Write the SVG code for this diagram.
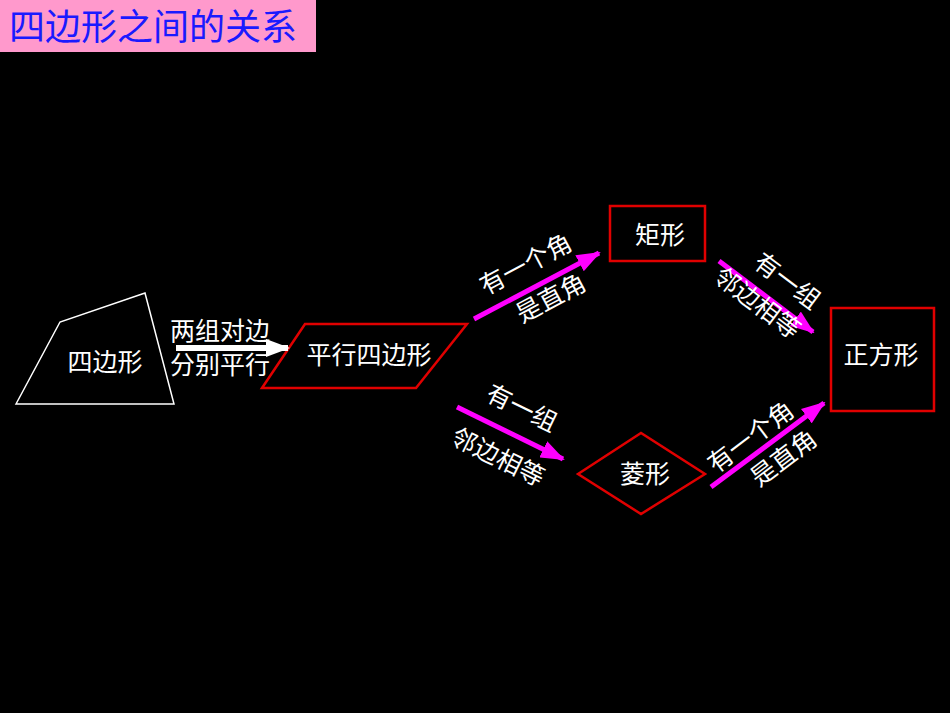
<svg xmlns="http://www.w3.org/2000/svg" width="950" height="713" viewBox="0 0 950 713">
<defs>
<style>
text{font-family:"Liberation Sans","Noto Sans CJK SC",sans-serif;fill:#fff;font-size:25px;text-anchor:middle}
.node{fill:none;stroke:#e00000;stroke-width:2.5}
.ma{stroke:#ff00ff;stroke-width:5;fill:none;marker-end:url(#mh)}
</style>
<marker id="mh" markerUnits="userSpaceOnUse" markerWidth="24" markerHeight="18" refX="22" refY="9" orient="auto"><path d="M0,0 L24,9 L0,18 Z" fill="#ff00ff"/></marker>
<marker id="wh" markerUnits="userSpaceOnUse" markerWidth="24" markerHeight="18" refX="22" refY="9" orient="auto"><path d="M0,0 L24,9 L0,18 Z" fill="#fff"/></marker>
</defs>
<rect width="950" height="713" fill="#000"/>
<g id="title"><rect x="0" y="0" width="316" height="52" fill="#ff99cc"/><text x="9" y="40" style="fill:#1a1aff;font-size:36px;text-anchor:start">四边形之间的关系</text></g>
<g id="quad"><polygon points="16,404 60,322 145,293 174,404" fill="none" stroke="#fff" stroke-width="1.5"/><text x="105" y="371">四边形</text></g>
<g id="para"><polygon class="node" points="262,388 305,324 467,324 416,388"/><text x="369" y="364">平行四边形</text></g>
<g id="rect"><rect class="node" x="610" y="206" width="95" height="55"/><text x="660" y="244">矩形</text></g>
<g id="rhombus"><polygon class="node" points="578,474 641,433 705,474 641,514"/><text x="645" y="483">菱形</text></g>
<g id="square"><rect class="node" x="831" y="308" width="103" height="103"/><text x="881" y="364">正方形</text></g>
<g id="connectors">
<line x1="176" y1="348" x2="288" y2="348" stroke="#fff" stroke-width="6" marker-end="url(#wh)"/>
<line class="ma" x1="474" y1="319" x2="599" y2="253"/>
<line class="ma" x1="457" y1="407" x2="563" y2="459"/>
<line class="ma" x1="719" y1="261" x2="813" y2="332"/>
<line class="ma" x1="711" y1="487" x2="824" y2="403"/>
</g>
<g id="labels">
<text x="220" y="340">两组对边</text>
<text x="220" y="374">分别平行</text>
<text transform="translate(530,272) rotate(-28)">有一个角</text>
<text transform="translate(555,306) rotate(-28)">是直角</text>
<text transform="translate(518,416) rotate(26)">有一组</text>
<text transform="translate(494,465) rotate(26)">邻边相等</text>
<text transform="translate(782,288) rotate(37)">有一组</text>
<text transform="translate(752,310) rotate(37)">邻边相等</text>
<text transform="translate(756,444) rotate(-37)">有一个角</text>
<text transform="translate(789,465) rotate(-37)">是直角</text>
</g>
</svg>
